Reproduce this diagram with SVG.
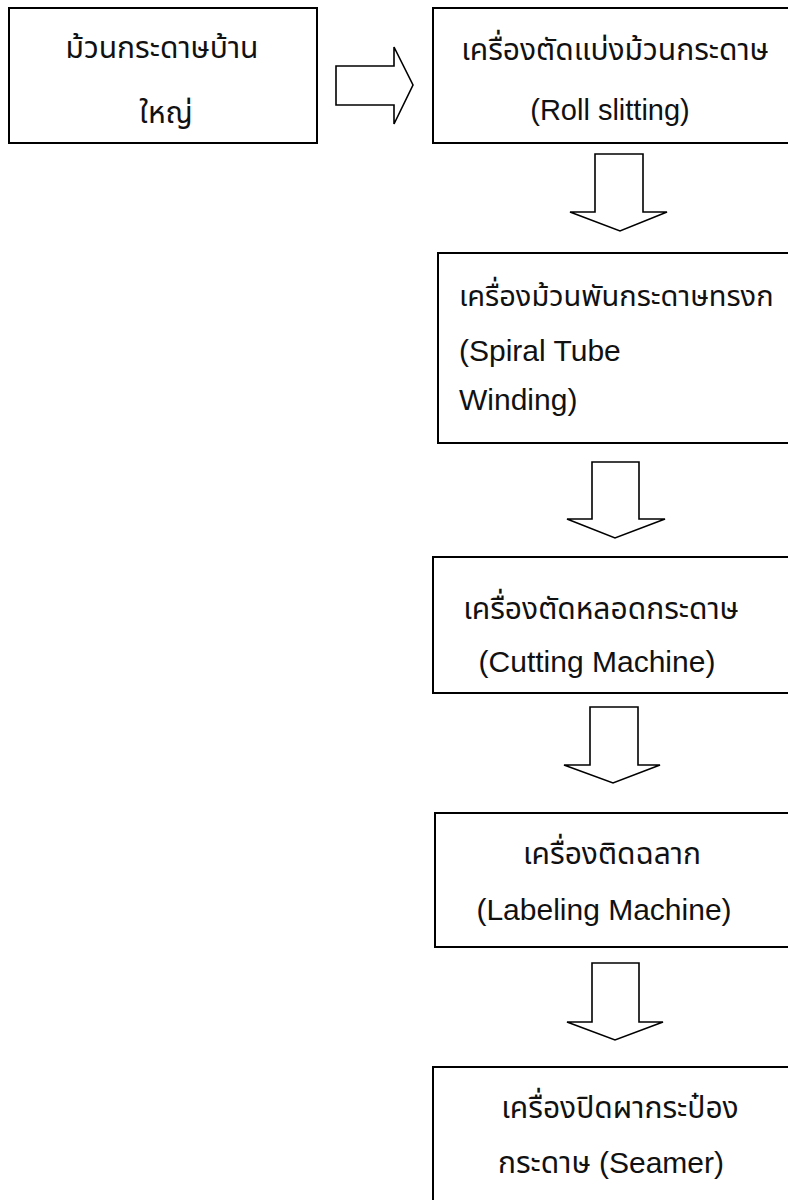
<svg xmlns="http://www.w3.org/2000/svg" width="788" height="1200" viewBox="0 0 788 1200">
<style>
.box{fill:#fff;stroke:#000;stroke-width:2}
.arr{fill:#fff;stroke:#000;stroke-width:1.6;stroke-linejoin:miter}
text{font-family:"Liberation Sans","Noto Sans Thai","Noto Sans","DejaVu Sans",sans-serif;font-size:30px;fill:#111}
.l{font-size:30px}
.s{font-size:29px}
.c{text-anchor:middle}
</style>
<rect width="788" height="1200" fill="#fff"/>
<g id="connectors">
<polygon class="arr" points="336,66 394,66 394,47 413,85 394,124 394,105 336,105"/>
<polygon class="arr" points="595,154 643,154 643,212 667,212 620,231 570,212 595,212"/>
<polygon class="arr" points="592,462 639,462 639,519 665,519 615,538 567,519 592,519"/>
<polygon class="arr" points="590,707 638,707 638,765 660,765 613,783 564,765 590,765"/>
<polygon class="arr" points="592,963 639,963 639,1022 663,1022 615,1040 567,1022 592,1022"/>
</g>
<g id="n1">
<rect class="box" x="9" y="8" width="308" height="135"/>
<text class="c" x="162" y="58">ม้วนกระดาษบ้าน</text>
<text class="c" x="166" y="123">ใหญ่</text>
</g>
<g id="n2">
<rect class="box" x="433" y="8" width="370" height="135"/>
<text class="c" x="615" y="60">เครื่องตัดแบ่งม้วนกระดาษ</text>
<text class="c s" x="610" y="120">(Roll slitting)</text>
</g>
<g id="n3">
<rect class="box" x="438" y="253" width="365" height="190"/>
<text class="s" x="459" y="306">เครื่องม้วนพันกระดาษทรงก</text>
<text class="l" x="459" y="361">(Spiral Tube</text>
<text class="l" x="459" y="410">Winding)</text>
</g>
<g id="n4">
<rect class="box" x="433" y="557" width="370" height="136"/>
<text class="c" x="601" y="619">เครื่องตัดหลอดกระดาษ</text>
<text class="c l" x="597" y="672">(Cutting Machine)</text>
</g>
<g id="n5">
<rect class="box" x="435" y="813" width="368" height="134"/>
<text class="c" x="612" y="864">เครื่องติดฉลาก</text>
<text class="c l" x="604" y="920">(Labeling Machine)</text>
</g>
<g id="n6">
<rect class="box" x="433" y="1067" width="370" height="150"/>
<text class="c" x="620" y="1118">เครื่องปิดผากระป๋อง</text>
<text class="c" x="611" y="1173">กระดาษ <tspan class="l">(Seamer)</tspan></text>
</g>
</svg>
